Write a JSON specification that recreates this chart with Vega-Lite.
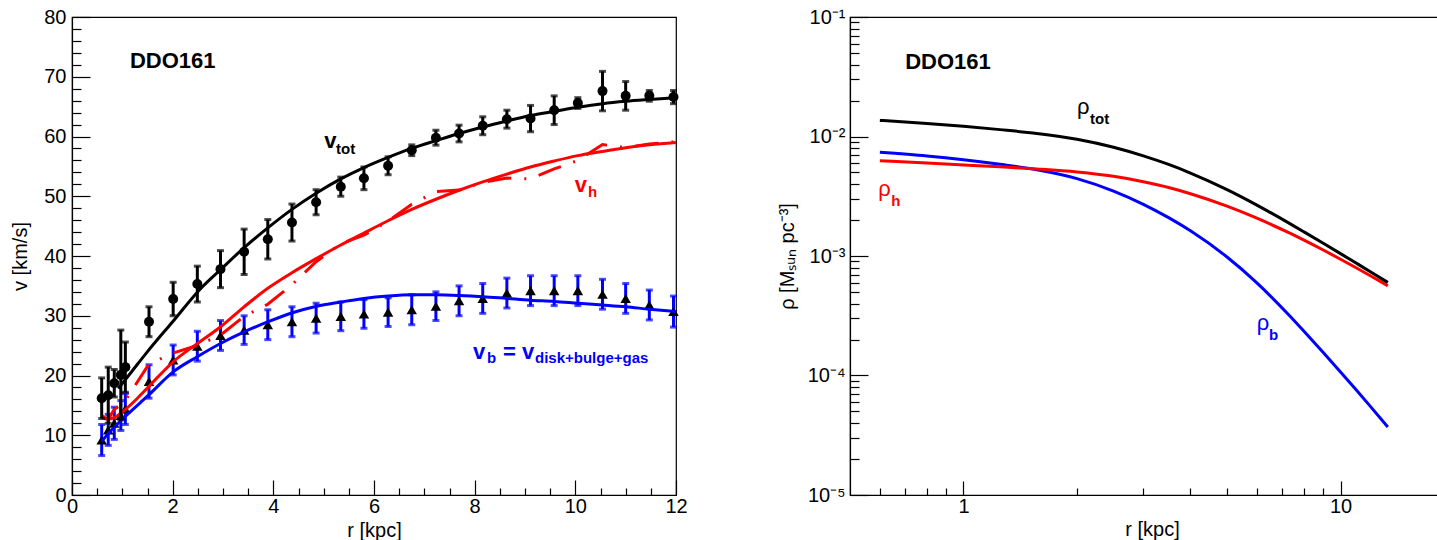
{
  "$schema": "https://vega.github.io/schema/vega-lite/v6.json",
  "autosize": {"type": "none"},
  "padding": {"left": 72, "top": 17, "right": 1365, "bottom": 523},
  "background": "white",
  "spacing": 174,
  "bounds": "flush",
  "datasets": {
    "one": [{}],
    "obs": [
      {"r": 0.59, "vo": 16.2, "eo": 3.4, "vb": 9.2, "eb": 2.6, "vh": 13.3},
      {"r": 0.72, "vo": 16.7, "eo": 4.7, "vb": 10.9, "eb": 2.6, "vh": 12.65},
      {"r": 0.84, "vo": 18.7, "eo": 2.3, "vb": 12.0, "eb": 2.7, "vh": 14.34},
      {"r": 0.97, "vo": 20.1, "eo": 7.5, "vb": 13.3, "eb": 2.5, "vh": 15.07},
      {"r": 1.06, "vo": 21.4, "eo": 4.2, "vb": 14.4, "eb": 2.6, "vh": 15.83},
      {"r": 1.53, "vo": 29.0, "eo": 2.5, "vb": 19.0, "eb": 2.8, "vh": 21.91},
      {"r": 2.01, "vo": 32.8, "eo": 2.8, "vb": 22.6, "eb": 2.5, "vh": 23.77},
      {"r": 2.49, "vo": 35.3, "eo": 3.0, "vb": 24.9, "eb": 2.5, "vh": 25.02},
      {"r": 2.95, "vo": 37.8, "eo": 3.1, "vb": 26.7, "eb": 2.5, "vh": 26.76},
      {"r": 3.42, "vo": 40.7, "eo": 3.8, "vb": 27.6, "eb": 2.4, "vh": 29.91},
      {"r": 3.89, "vo": 42.8, "eo": 3.3, "vb": 28.5, "eb": 2.5, "vh": 31.93},
      {"r": 4.37, "vo": 45.6, "eo": 3.1, "vb": 29.0, "eb": 2.5, "vh": 35.19},
      {"r": 4.85, "vo": 49.0, "eo": 2.1, "vb": 29.6, "eb": 2.5, "vh": 39.05},
      {"r": 5.34, "vo": 51.6, "eo": 1.6, "vb": 29.9, "eb": 2.4, "vh": 42.05},
      {"r": 5.80, "vo": 53.0, "eo": 1.9, "vb": 30.3, "eb": 2.4, "vh": 43.48},
      {"r": 6.28, "vo": 55.1, "eo": 1.5, "vb": 30.6, "eb": 2.4, "vh": 45.82},
      {"r": 6.75, "vo": 57.7, "eo": 0.9, "vb": 31.0, "eb": 2.5, "vh": 48.66},
      {"r": 7.23, "vo": 59.8, "eo": 1.25, "vb": 31.6, "eb": 2.4, "vh": 50.77},
      {"r": 7.69, "vo": 60.5, "eo": 1.4, "vb": 32.5, "eb": 2.5, "vh": 51.03},
      {"r": 8.16, "vo": 61.8, "eo": 1.5, "vb": 32.9, "eb": 2.5, "vh": 52.31},
      {"r": 8.64, "vo": 62.9, "eo": 1.5, "vb": 33.8, "eb": 2.5, "vh": 53.05},
      {"r": 9.11, "vo": 63.0, "eo": 2.2, "vb": 34.2, "eb": 2.5, "vh": 52.91},
      {"r": 9.58, "vo": 64.4, "eo": 2.4, "vb": 34.2, "eb": 2.5, "vh": 54.57},
      {"r": 10.05, "vo": 65.6, "eo": 0.9, "vb": 34.2, "eb": 2.5, "vh": 55.98},
      {"r": 10.54, "vo": 67.6, "eo": 3.3, "vb": 33.6, "eb": 2.5, "vh": 58.66},
      {"r": 11.0, "vo": 66.8, "eo": 2.4, "vb": 32.9, "eb": 2.5, "vh": 58.14},
      {"r": 11.47, "vo": 66.8, "eo": 0.9, "vb": 31.8, "eb": 2.5, "vh": 58.75},
      {"r": 11.95, "vo": 66.6, "eo": 1.1, "vb": 30.7, "eb": 2.6, "vh": 59.1}
    ],
    "vtot": [
      {"r": 0.92, "v": 17.8}, {"r": 1.2, "v": 20.8}, {"r": 1.5, "v": 24.0}, {"r": 2.0, "v": 29.0},
      {"r": 2.54, "v": 34.4}, {"r": 2.95, "v": 37.7}, {"r": 3.42, "v": 41.4}, {"r": 3.89, "v": 44.7},
      {"r": 4.37, "v": 47.8}, {"r": 4.85, "v": 50.5}, {"r": 5.34, "v": 52.9}, {"r": 5.8, "v": 54.8},
      {"r": 6.28, "v": 56.5}, {"r": 6.75, "v": 58.0}, {"r": 7.23, "v": 59.3}, {"r": 7.69, "v": 60.5},
      {"r": 8.16, "v": 61.6}, {"r": 8.64, "v": 62.6}, {"r": 9.11, "v": 63.5}, {"r": 9.58, "v": 64.2},
      {"r": 10.05, "v": 64.9}, {"r": 10.54, "v": 65.5}, {"r": 11.0, "v": 65.9}, {"r": 11.47, "v": 66.2},
      {"r": 12.0, "v": 66.5}
    ],
    "vbfit": [
      {"r": 0.59, "v": 9.0}, {"r": 0.8, "v": 11.0}, {"r": 1.09, "v": 13.4}, {"r": 1.52, "v": 16.7},
      {"r": 2.01, "v": 20.6}, {"r": 2.48, "v": 23.1}, {"r": 2.96, "v": 25.4}, {"r": 3.42, "v": 27.3},
      {"r": 3.9, "v": 29.0}, {"r": 4.38, "v": 30.5}, {"r": 4.86, "v": 31.6}, {"r": 5.34, "v": 32.3},
      {"r": 5.8, "v": 32.9}, {"r": 6.28, "v": 33.3}, {"r": 6.75, "v": 33.5}, {"r": 7.23, "v": 33.5},
      {"r": 7.69, "v": 33.4}, {"r": 8.16, "v": 33.2}, {"r": 8.64, "v": 32.9}, {"r": 9.11, "v": 32.6},
      {"r": 9.58, "v": 32.4}, {"r": 10.05, "v": 32.1}, {"r": 10.54, "v": 31.8}, {"r": 11.0, "v": 31.5},
      {"r": 11.47, "v": 31.1}, {"r": 12.0, "v": 30.7}
    ],
    "vhfit": [
      {"r": 0.6, "v": 13.0}, {"r": 0.7, "v": 12.7}, {"r": 0.85, "v": 13.0}, {"r": 1.0, "v": 13.9},
      {"r": 1.3, "v": 16.2}, {"r": 1.52, "v": 18.1}, {"r": 2.01, "v": 22.3}, {"r": 2.5, "v": 25.4},
      {"r": 2.96, "v": 28.2}, {"r": 3.42, "v": 31.5}, {"r": 3.89, "v": 34.6}, {"r": 4.37, "v": 37.2},
      {"r": 4.86, "v": 39.6}, {"r": 5.33, "v": 41.8}, {"r": 5.79, "v": 43.8}, {"r": 6.28, "v": 45.9},
      {"r": 6.75, "v": 47.8}, {"r": 7.23, "v": 49.5}, {"r": 7.69, "v": 51.0}, {"r": 8.16, "v": 52.4},
      {"r": 8.64, "v": 53.7}, {"r": 9.11, "v": 54.9}, {"r": 9.58, "v": 55.9}, {"r": 10.05, "v": 56.8},
      {"r": 10.54, "v": 57.5}, {"r": 11.0, "v": 58.1}, {"r": 11.47, "v": 58.6}, {"r": 12.0, "v": 59.0}
    ],
    "rtot": [
      {"r": 0.6, "rho": 0.01364}, {"r": 0.8, "rho": 0.012867}, {"r": 1.0, "rho": 0.012167},
      {"r": 1.25, "rho": 0.011417}, {"r": 1.565, "rho": 0.010616}, {"r": 2, "rho": 0.00949},
      {"r": 2.5, "rho": 0.008134}, {"r": 3, "rho": 0.006888}, {"r": 3.5, "rho": 0.005834},
      {"r": 4, "rho": 0.004944}, {"r": 5, "rho": 0.003592}, {"r": 6, "rho": 0.002667},
      {"r": 7.339, "rho": 0.001866}, {"r": 8, "rho": 0.001592}, {"r": 9, "rho": 0.001278},
      {"r": 10, "rho": 0.001047}, {"r": 11, "rho": 0.000873}, {"r": 12, "rho": 0.000739},
      {"r": 13.35, "rho": 0.000601}
    ],
    "rh": [
      {"r": 0.6, "rho": 0.00627}, {"r": 0.8, "rho": 0.006}, {"r": 1.0, "rho": 0.00578},
      {"r": 1.25, "rho": 0.00557}, {"r": 1.565, "rho": 0.00535}, {"r": 2, "rho": 0.00505},
      {"r": 2.5, "rho": 0.00464}, {"r": 3, "rho": 0.00418}, {"r": 3.5, "rho": 0.00374},
      {"r": 4, "rho": 0.003318}, {"r": 5, "rho": 0.002611}, {"r": 6, "rho": 0.002071},
      {"r": 7.339, "rho": 0.001551}, {"r": 8, "rho": 0.001357}, {"r": 9, "rho": 0.001122},
      {"r": 10, "rho": 0.00094}, {"r": 11, "rho": 0.000797}, {"r": 12, "rho": 0.000684},
      {"r": 13.35, "rho": 0.000564}
    ],
    "rb": [
      {"r": 0.6, "rho": 0.00737}, {"r": 0.8, "rho": 0.006867}, {"r": 1.0, "rho": 0.006387},
      {"r": 1.25, "rho": 0.005847}, {"r": 1.565, "rho": 0.005266}, {"r": 2, "rho": 0.00444},
      {"r": 2.5, "rho": 0.003494}, {"r": 3, "rho": 0.002708}, {"r": 3.5, "rho": 0.002094},
      {"r": 4, "rho": 0.001626}, {"r": 5, "rho": 0.000981}, {"r": 6, "rho": 0.0005964},
      {"r": 7.339, "rho": 0.0003149}, {"r": 8, "rho": 0.0002345}, {"r": 9, "rho": 0.0001556},
      {"r": 10, "rho": 0.000107}, {"r": 11, "rho": 0.00007586}, {"r": 12, "rho": 0.00005514},
      {"r": 13.35, "rho": 0.0000371}
    ]
  },
  "hconcat": [
    {
      "width": 604,
      "height": 478,
      "resolve": {"axis": {"x": "independent", "y": "independent"}},
      "layer": [
        {
          "data": {"name": "obs"},
          "mark": {"type": "errorbar", "color": "#0000ff", "thickness": 3, "ticks": {"size": 7}},
          "encoding": {
            "x": {"field": "r", "type": "quantitative", "axis": null,
              "scale": {"domain": [0, 12], "nice": false, "zero": false}},
            "y": {"field": "vb", "type": "quantitative", "axis": null,
              "scale": {"domain": [0, 80], "nice": false, "zero": false}},
            "yError": {"field": "eb"}
          }
        },
        {
          "data": {"name": "obs"},
          "mark": {"type": "point", "shape": "triangle-up", "filled": true, "color": "black", "opacity": 1, "size": 110},
          "encoding": {
            "x": {"field": "r", "type": "quantitative",
              "axis": {"title": "r [kpc]", "orient": "bottom",
                "values": [0, 0.5, 1, 1.5, 2, 2.5, 3, 3.5, 4, 4.5, 5, 5.5, 6, 6.5, 7, 7.5, 8, 8.5, 9, 9.5, 10, 10.5, 11, 11.5, 12],
                "labelExpr": "datum.value % 2 === 0 ? format(datum.value, 'd') : ''",
                "tickSize": {"condition": {"test": "datum.value % 2 === 0", "value": -15}, "value": -7},
                "labelOverlap": false, "labelFlush": false, "labelBound": false,
                "labelPadding": 16, "titlePadding": -4}},
            "y": {"field": "vb", "type": "quantitative",
              "axis": {"title": "v [km/s]", "orient": "left",
                "values": [0, 2, 4, 6, 8, 10, 12, 14, 16, 18, 20, 22, 24, 26, 28, 30, 32, 34, 36, 38, 40, 42, 44, 46, 48, 50, 52, 54, 56, 58, 60, 62, 64, 66, 68, 70, 72, 74, 76, 78, 80],
                "labelExpr": "datum.value % 10 === 0 ? format(datum.value, 'd') : ''",
                "tickSize": {"condition": {"test": "datum.value % 10 === 0", "value": -18}, "value": -9},
                "labelOverlap": false, "labelFlush": false, "labelBound": false,
                "labelPadding": 24, "titlePadding": 13}}
          }
        },
        {
          "data": {"name": "obs"},
          "mark": {"type": "line", "color": "#ff0000", "strokeWidth": 3, "strokeDash": [24, 13, 2, 13]},
          "encoding": {
            "x": {"field": "r", "type": "quantitative", "axis": null},
            "y": {"field": "vh", "type": "quantitative", "axis": null}
          }
        },
        {
          "data": {"name": "vhfit"},
          "mark": {"type": "line", "color": "#ff0000", "strokeWidth": 3, "interpolate": "monotone"},
          "encoding": {
            "x": {"field": "r", "type": "quantitative", "axis": null},
            "y": {"field": "v", "type": "quantitative", "axis": null}
          }
        },
        {
          "data": {"name": "vbfit"},
          "mark": {"type": "line", "color": "#0000ff", "strokeWidth": 3, "interpolate": "monotone"},
          "encoding": {
            "x": {"field": "r", "type": "quantitative", "axis": null},
            "y": {"field": "v", "type": "quantitative", "axis": null}
          }
        },
        {
          "data": {"name": "obs"},
          "mark": {"type": "errorbar", "color": "black", "thickness": 3, "ticks": {"size": 7}},
          "encoding": {
            "x": {"field": "r", "type": "quantitative", "axis": null},
            "y": {"field": "vo", "type": "quantitative", "axis": null},
            "yError": {"field": "eo"}
          }
        },
        {
          "data": {"name": "obs"},
          "mark": {"type": "point", "shape": "circle", "filled": true, "color": "black", "opacity": 1, "size": 100},
          "encoding": {
            "x": {"field": "r", "type": "quantitative", "axis": null},
            "y": {"field": "vo", "type": "quantitative", "axis": null}
          }
        },
        {
          "data": {"name": "vtot"},
          "mark": {"type": "line", "color": "black", "strokeWidth": 3, "interpolate": "monotone"},
          "encoding": {
            "x": {"field": "r", "type": "quantitative", "axis": null},
            "y": {"field": "v", "type": "quantitative", "axis": null}
          }
        },
        {
          "data": {"name": "one"},
          "mark": {"type": "text", "text": "DDO161", "fontWeight": "bold", "fontSize": 22, "align": "left", "baseline": "middle", "color": "black"},
          "encoding": {"x": {"datum": 1.15, "type": "quantitative", "axis": null}, "y": {"datum": 72.6, "type": "quantitative", "axis": null}}
        },
        {
          "data": {"name": "one"},
          "mark": {"type": "text", "text": "v", "fontWeight": "bold", "fontSize": 22, "align": "left", "baseline": "alphabetic", "color": "black"},
          "encoding": {"x": {"datum": 5.01, "type": "quantitative", "axis": null}, "y": {"datum": 58.1, "type": "quantitative", "axis": null}}
        },
        {
          "data": {"name": "one"},
          "mark": {"type": "text", "text": "tot", "fontWeight": "bold", "fontSize": 15, "align": "left", "baseline": "alphabetic", "color": "black"},
          "encoding": {"x": {"datum": 5.245, "type": "quantitative", "axis": null}, "y": {"datum": 57.07, "type": "quantitative", "axis": null}}
        },
        {
          "data": {"name": "one"},
          "mark": {"type": "text", "text": "v", "fontWeight": "bold", "fontSize": 22, "align": "left", "baseline": "alphabetic", "color": "#ff0000"},
          "encoding": {"x": {"datum": 9.99, "type": "quantitative", "axis": null}, "y": {"datum": 50.7, "type": "quantitative", "axis": null}}
        },
        {
          "data": {"name": "one"},
          "mark": {"type": "text", "text": "h", "fontWeight": "bold", "fontSize": 15, "align": "left", "baseline": "alphabetic", "color": "#ff0000"},
          "encoding": {"x": {"datum": 10.25, "type": "quantitative", "axis": null}, "y": {"datum": 49.9, "type": "quantitative", "axis": null}}
        },
        {
          "data": {"name": "one"},
          "mark": {"type": "text", "text": "v", "fontWeight": "bold", "fontSize": 22, "align": "left", "baseline": "alphabetic", "color": "#0000ff"},
          "encoding": {"x": {"datum": 7.967, "type": "quantitative", "axis": null}, "y": {"datum": 22.76, "type": "quantitative", "axis": null}}
        },
        {
          "data": {"name": "one"},
          "mark": {"type": "text", "text": "b", "fontWeight": "bold", "fontSize": 15, "align": "left", "baseline": "alphabetic", "color": "#0000ff"},
          "encoding": {"x": {"datum": 8.245, "type": "quantitative", "axis": null}, "y": {"datum": 22.09, "type": "quantitative", "axis": null}}
        },
        {
          "data": {"name": "one"},
          "mark": {"type": "text", "text": "= v", "fontWeight": "bold", "fontSize": 22, "align": "left", "baseline": "alphabetic", "color": "#0000ff"},
          "encoding": {"x": {"datum": 8.563, "type": "quantitative", "axis": null}, "y": {"datum": 22.76, "type": "quantitative", "axis": null}}
        },
        {
          "data": {"name": "one"},
          "mark": {"type": "text", "text": "disk+bulge+gas", "fontWeight": "bold", "fontSize": 15, "align": "left", "baseline": "alphabetic", "color": "#0000ff"},
          "encoding": {"x": {"datum": 9.199, "type": "quantitative", "axis": null}, "y": {"datum": 22.09, "type": "quantitative", "axis": null}}
        }
      ]
    },
    {
      "width": 604,
      "height": 478,
      "resolve": {"axis": {"x": "independent", "y": "independent"}},
      "layer": [
        {
          "data": {"name": "rb"},
          "mark": {"type": "line", "color": "#0000ff", "strokeWidth": 3, "interpolate": "monotone"},
          "encoding": {
            "x": {"field": "r", "type": "quantitative",
              "scale": {"type": "log", "domain": [0.5, 20], "nice": false},
              "axis": {"title": "r [kpc]", "orient": "bottom",
                "values": [0.6, 0.7, 0.8, 0.9, 1, 2, 3, 4, 5, 6, 7, 8, 9, 10, 20],
                "labelExpr": "datum.value === 1 ? '1' : (datum.value === 10 ? '10' : '')",
                "tickSize": {"condition": {"test": "datum.value === 1 || datum.value === 10", "value": -14}, "value": -7},
                "labelOverlap": false, "labelFlush": false, "labelBound": false,
                "labelPadding": 15, "titlePadding": -4}},
            "y": {"field": "rho", "type": "quantitative",
              "scale": {"type": "log", "domain": [0.00001, 0.1], "nice": false},
              "axis": {"title": "ρ [Mₛᵤₙ pc⁻³]", "orient": "left",
                "values": [0.00001, 0.00002, 0.00003, 0.00004, 0.00005, 0.00006, 0.00007, 0.00008, 0.00009, 0.0001, 0.0002, 0.0003, 0.0004, 0.0005, 0.0006, 0.0007, 0.0008, 0.0009, 0.001, 0.002, 0.003, 0.004, 0.005, 0.006, 0.007, 0.008, 0.009, 0.01, 0.02, 0.03, 0.04, 0.05, 0.06, 0.07, 0.08, 0.09, 0.1],
                "labelExpr": "abs(log(datum.value)/LN10 - round(log(datum.value)/LN10)) < 0.001 ? '10' + ['⁻¹','⁻²','⁻³','⁻⁴','⁻⁵'][-round(log(datum.value)/LN10)-1] : ''",
                "tickSize": {"condition": {"test": "abs(log(datum.value)/LN10 - round(log(datum.value)/LN10)) < 0.001", "value": -18}, "value": -9},
                "labelOverlap": false, "labelFlush": false, "labelBound": false,
                "labelPadding": 23, "titlePadding": 10}}
          }
        },
        {
          "data": {"name": "rh"},
          "mark": {"type": "line", "color": "#ff0000", "strokeWidth": 3, "interpolate": "monotone"},
          "encoding": {
            "x": {"field": "r", "type": "quantitative", "axis": null},
            "y": {"field": "rho", "type": "quantitative", "axis": null}
          }
        },
        {
          "data": {"name": "rtot"},
          "mark": {"type": "line", "color": "black", "strokeWidth": 3, "interpolate": "monotone"},
          "encoding": {
            "x": {"field": "r", "type": "quantitative", "axis": null},
            "y": {"field": "rho", "type": "quantitative", "axis": null}
          }
        },
        {
          "data": {"name": "one"},
          "mark": {"type": "text", "text": "DDO161", "fontWeight": "bold", "fontSize": 22, "align": "left", "baseline": "middle", "color": "black"},
          "encoding": {"x": {"datum": 0.7006, "type": "quantitative", "axis": null}, "y": {"datum": 0.042, "type": "quantitative", "axis": null}}
        },
        {
          "data": {"name": "one"},
          "mark": {"type": "text", "text": "ρ", "fontSize": 22, "align": "left", "baseline": "alphabetic", "color": "black"},
          "encoding": {"x": {"datum": 2.001, "type": "quantitative", "axis": null}, "y": {"datum": 0.01543, "type": "quantitative", "axis": null}}
        },
        {
          "data": {"name": "one"},
          "mark": {"type": "text", "text": "tot", "fontWeight": "bold", "fontSize": 15, "align": "left", "baseline": "alphabetic", "color": "black"},
          "encoding": {"x": {"datum": 2.167, "type": "quantitative", "axis": null}, "y": {"datum": 0.01272, "type": "quantitative", "axis": null}}
        },
        {
          "data": {"name": "one"},
          "mark": {"type": "text", "text": "ρ", "fontSize": 22, "align": "left", "baseline": "alphabetic", "color": "#ff0000"},
          "encoding": {"x": {"datum": 0.594, "type": "quantitative", "axis": null}, "y": {"datum": 0.003177, "type": "quantitative", "axis": null}}
        },
        {
          "data": {"name": "one"},
          "mark": {"type": "text", "text": "h", "fontWeight": "bold", "fontSize": 15, "align": "left", "baseline": "alphabetic", "color": "#ff0000"},
          "encoding": {"x": {"datum": 0.6429, "type": "quantitative", "axis": null}, "y": {"datum": 0.00262, "type": "quantitative", "axis": null}}
        },
        {
          "data": {"name": "one"},
          "mark": {"type": "text", "text": "ρ", "fontSize": 22, "align": "left", "baseline": "alphabetic", "color": "#0000ff"},
          "encoding": {"x": {"datum": 5.997, "type": "quantitative", "axis": null}, "y": {"datum": 0.0002404, "type": "quantitative", "axis": null}}
        },
        {
          "data": {"name": "one"},
          "mark": {"type": "text", "text": "b", "fontWeight": "bold", "fontSize": 15, "align": "left", "baseline": "alphabetic", "color": "#0000ff"},
          "encoding": {"x": {"datum": 6.465, "type": "quantitative", "axis": null}, "y": {"datum": 0.0001982, "type": "quantitative", "axis": null}}
        }
      ]
    }
  ],
  "config": {
    "font": "Liberation Sans",
    "view": {"stroke": "black", "strokeWidth": 1.2},
    "axis": {
      "grid": false,
      "domainColor": "black", "domainWidth": 1.2,
      "tickColor": "black", "tickWidth": 1.2,
      "labelColor": "black", "titleColor": "black",
      "labelFont": "Liberation Sans", "titleFont": "Liberation Sans",
      "labelFontSize": 20, "titleFontSize": 20, "titleFontWeight": "normal",
      "labelOverlap": false, "labelFlush": false
    },
    "text": {"font": "Liberation Sans"}
  }
}
